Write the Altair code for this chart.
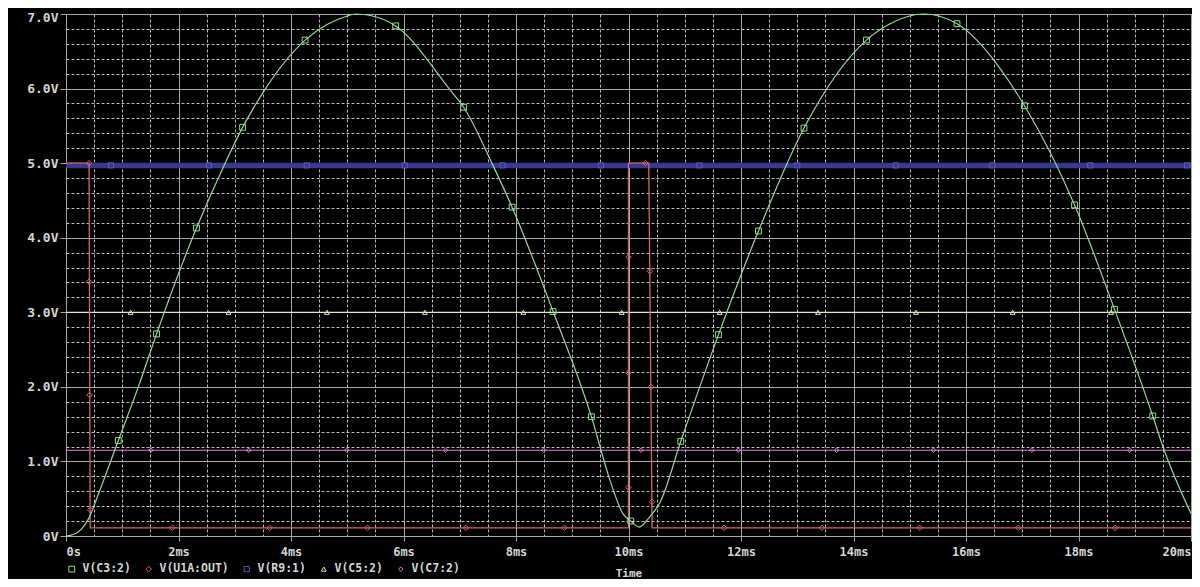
import altair as alt
import pandas as pd

# ---------------- data ----------------
series = ["V(C3:2)", "V(U1A:OUT)", "V(R9:1)", "V(C5:2)", "V(C7:2)"]
colors = ["#94dc94", "#d06868", "#5a5abc", "#e4e4c8", "#d884d8"]
shapes = ["square", "diamond", "square", "triangle-up", "diamond"]
marker_sizes = [34, 20, 10, 22, 20]
blue_band = "#38388c"

# V(C3:2) trace (ms, V)
green_t = [0, 0.13, 0.27, 0.4, 0.6, 0.93, 1.31, 1.61, 2.32, 2.81, 3.14, 3.53, 4.25, 4.64,
           4.99, 5.15, 5.41, 5.86, 6.83, 7.07, 7.59, 7.93, 8.66, 9.34, 9.67, 9.9, 10.04,
           10.19, 10.37, 10.56, 10.93, 11.60, 12.31, 13.12, 14.23, 14.65, 15.25, 15.84,
           17.04, 17.93, 18.64, 19.32, 19.5, 20.0]
green_v = [0, 0.02, 0.09, 0.23, 0.61, 1.28, 2.05, 2.71, 4.13, 4.97, 5.48, 5.98, 6.65, 6.86,
           6.97, 7.0, 6.98, 6.84, 5.98, 5.75, 4.97, 4.41, 3.01, 1.60, 0.75, 0.3, 0.2,
           0.12, 0.25, 0.45, 1.27, 2.70, 4.09, 5.47, 6.65, 6.87, 7.0, 6.87,
           5.77, 4.44, 3.04, 1.61, 1.2, 0.3]
green_mark_t = [0.93, 1.61, 2.32, 3.14, 4.25, 5.86, 7.07, 7.93, 8.66, 9.34, 10.04, 10.93,
                11.60, 12.31, 13.12, 14.23, 15.84, 17.04, 17.93, 18.64, 19.32]
green_mark_v = [1.28, 2.71, 4.13, 5.48, 6.65, 6.84, 5.75, 4.41, 3.01, 1.60, 0.20, 1.27,
                2.70, 4.09, 5.47, 6.65, 6.87, 5.77, 4.44, 3.04, 1.61]

# V(U1A:OUT) trace
red_t = [0, 0.41, 0.43, 10.0, 10.0, 10.36, 10.42, 20.0]
red_v = [5.0, 5.0, 0.11, 0.11, 5.0, 5.0, 0.11, 0.11]
red_mark_t = [0.41, 0.41, 0.42, 0.43, 1.89, 3.62, 5.36, 7.11, 8.86, 10.0, 10.0, 10.0,
              10.3, 10.38, 10.40, 10.42, 11.70, 13.44, 15.18, 16.93, 18.65]
red_mark_v = [5.0, 3.41, 1.89, 0.35, 0.11, 0.11, 0.11, 0.11, 0.11, 0.65, 2.19, 3.74,
              5.0, 3.55, 2.0, 0.46, 0.11, 0.11, 0.11, 0.11, 0.11]

# V(R9:1)
blue_t = [0, 20.0]
blue_v = [4.97, 4.97]
blue_mark_t = [0.80, 2.54, 4.28, 6.02, 7.76, 9.51, 11.26, 13.0, 14.75, 16.47, 18.21, 19.93]

# V(C5:2)
yellow_t = [0, 20.0]
yellow_v = [3.0, 3.0]
yellow_mark_t = [1.15, 2.89, 4.64, 6.38, 8.13, 9.88, 11.62, 13.37, 15.11, 16.83, 18.58]

# V(C7:2)
pink_t = [0, 20.0]
pink_v = [1.15, 1.15]
pink_mark_t = [1.51, 3.25, 4.99, 6.75, 8.49, 10.22, 11.95, 13.70, 15.42, 17.17, 18.91]

# axis ticks
x_ticks = [0, 0.5, 1, 1.5, 2, 2.5, 3, 3.5, 4, 4.5, 5, 5.5, 6, 6.5, 7, 7.5, 8, 8.5, 9, 9.5,
           10, 10.5, 11, 11.5, 12, 12.5, 13, 13.5, 14, 14.5, 15, 15.5, 16, 16.5, 17, 17.5,
           18, 18.5, 19, 19.5, 20]
y_ticks = [0, 0.2, 0.4, 0.6, 0.8, 1, 1.2, 1.4, 1.6, 1.8, 2, 2.2, 2.4, 2.6, 2.8, 3, 3.2,
           3.4, 3.6, 3.8, 4, 4.2, 4.4, 4.6, 4.8, 5, 5.2, 5.4, 5.6, 5.8, 6, 6.2, 6.4, 6.6,
           6.8, 7]

# ---------------- tables ----------------
def trace(ts, vs):
    return pd.DataFrame({"t": ts, "v": vs, "idx": list(range(len(ts)))})

green_df = trace(green_t, green_v)
red_df = trace(red_t, red_v)
blue_df = trace(blue_t, blue_v)
yellow_df = trace(yellow_t, yellow_v)
pink_df = trace(pink_t, pink_v)

markers = pd.concat([
    pd.DataFrame({"t": green_mark_t, "v": green_mark_v, "series": series[0]}),
    pd.DataFrame({"t": red_mark_t, "v": red_mark_v, "series": series[1]}),
    pd.DataFrame({"t": blue_mark_t, "v": [blue_v[0]] * len(blue_mark_t), "series": series[2]}),
    pd.DataFrame({"t": yellow_mark_t, "v": [yellow_v[0]] * len(yellow_mark_t), "series": series[3]}),
    pd.DataFrame({"t": pink_mark_t, "v": [pink_v[0]] * len(pink_mark_t), "series": series[4]}),
], ignore_index=True)

FONT = "DejaVu Sans Mono"
TXT = "#d4d4d4"
MAJ = "#a8a8a8"
MIN = "#bcbcbc"

x_major = "datum.value % 2 == 0"
y_major = "abs(datum.value - round(datum.value)) < 0.001"

x_axis = alt.Axis(
    values=x_ticks, title="Time", labelExpr="datum.value % 2 == 0 ? (datum.value == 0 ? '0s' : datum.value + 'ms') : ''",
    labelOverlap=False, labelFlush=True, labelFont=FONT, labelFontSize=12, labelFontWeight="bold",
    labelColor=TXT, labelPadding=5, tickSize=5,
    tickColor={"condition": {"test": x_major, "value": MAJ}, "value": "transparent"},
    grid=True,
    gridColor={"condition": {"test": x_major, "value": MAJ}, "value": MIN},
    gridDash={"condition": {"test": x_major, "value": []}, "value": [3, 2]},
    gridWidth=1, domainColor=MAJ,
    titleFont=FONT, titleFontSize=11, titleFontWeight="bold", titleColor=TXT, titlePadding=10,
)
y_axis = alt.Axis(
    values=y_ticks, title=None,
    labelExpr="abs(datum.value - round(datum.value)) < 0.001 ? (datum.value == 0 ? '0V' : format(datum.value, '.1f') + 'V') : ''",
    labelOverlap=False, labelFont=FONT, labelFontSize=13, labelFontWeight="bold",
    labelColor=TXT, labelPadding=2, tickSize=6,
    labelOffset={"condition": {"test": "datum.value >= 6.99", "value": 3}, "value": 0},
    tickColor={"condition": {"test": y_major, "value": MAJ}, "value": "transparent"},
    grid=True,
    gridColor={"condition": {"test": y_major, "value": MAJ}, "value": MIN},
    gridDash={"condition": {"test": y_major, "value": []}, "value": [3, 2]},
    gridWidth=1, domainColor=MAJ,
)

x_enc = alt.X("t:Q", scale=alt.Scale(domain=[0, 20], nice=False, zero=False), axis=x_axis)
y_enc = alt.Y("v:Q", scale=alt.Scale(domain=[0, 7], nice=False, zero=False), axis=y_axis)


def line_layer(df, color, width, interp="linear"):
    return alt.Chart(df).mark_line(color=color, strokeWidth=width, interpolate=interp).encode(
        x=x_enc, y=y_enc, order="idx:Q")


leg = alt.Legend(
    title=None, orient="none", legendX=0, legendY=549, direction="horizontal",
    labelColor=TXT, labelFont=FONT, labelFontSize=11.5, labelFontWeight="bold",
    symbolSize=30, symbolStrokeWidth=1, labelOffset=5, columnPadding=12, padding=0,
    labelLimit=0,
)

marker_layer = alt.Chart(markers).mark_point(filled=False, strokeWidth=1, opacity=1).encode(
    x=x_enc, y=y_enc,
    color=alt.Color("series:N", scale=alt.Scale(domain=series, range=colors), legend=leg),
    shape=alt.Shape("series:N", scale=alt.Scale(domain=series, range=shapes), legend=leg),
    size=alt.Size("series:N", scale=alt.Scale(domain=series, range=marker_sizes), legend=None),
)

chart = alt.layer(
    line_layer(blue_df, blue_band, 5.5),
    line_layer(yellow_df, colors[3], 1.2),
    line_layer(pink_df, colors[4], 1.2),
    line_layer(red_df, colors[1], 1.3),
    line_layer(green_df, colors[0], 1.2, "monotone"),
    marker_layer,
).properties(
    width=1125, height=522, background="#000000",
    padding={"left": 58, "top": 6, "right": 1, "bottom": 43},
    autosize=alt.AutoSizeParams(type="none"),
).configure_view(stroke=MAJ, strokeWidth=1)

chart.save("out.html", embed_options={"renderer": "svg", "actions": False})
